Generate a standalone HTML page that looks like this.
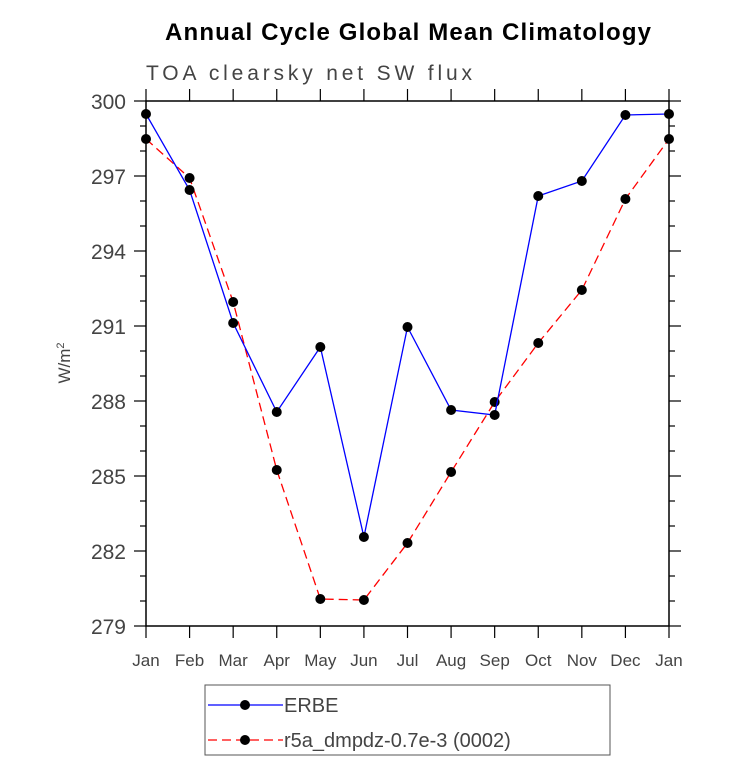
<!DOCTYPE html>
<html><head><meta charset="utf-8"><style>
body{margin:0;background:#fff;}
svg text{font-family:"Liberation Sans",sans-serif;}
</style></head><body>
<svg id="chart" width="733" height="777" xmlns="http://www.w3.org/2000/svg">
<text x="408" y="40" text-anchor="middle" font-size="24" font-weight="bold" textLength="486">Annual Cycle Global Mean Climatology</text>
<text x="146" y="80" font-size="21" fill="#444" textLength="326">TOA clearsky net SW flux</text>
<text transform="translate(70,363) rotate(-90)" text-anchor="middle" font-size="17" fill="#444">W/m<tspan font-size="11" dy="-6">2</tspan></text>
<g id="axes"></g><g id="series"></g>
<rect x="205" y="685" width="405" height="70" fill="none" stroke="#555"/>
<g><line x1="208" y1="705" x2="283" y2="705" stroke="#00f" stroke-width="1.3"/><circle cx="245" cy="705" r="5"/><text x="284" y="712" font-size="20" fill="#444">ERBE</text></g>
<g><line x1="208" y1="740" x2="283" y2="740" stroke="#f00" stroke-width="1.3" stroke-dasharray="9,5"/><circle cx="245" cy="740" r="5"/><text x="284" y="747" font-size="20" fill="#444">r5a_dmpdz-0.7e-3 (0002)</text></g>
</svg>
<script>
const months=["Jan","Feb","Mar","Apr","May","Jun","Jul","Aug","Sep","Oct","Nov","Dec","Jan"];
const erbe=[299.48,296.44,291.12,287.56,290.16,282.56,290.96,287.64,287.44,296.2,296.8,299.44,299.48];
const r5a=[298.48,296.92,291.96,285.24,280.08,280.04,282.32,285.16,287.96,290.32,292.44,296.08,298.48];
const yTicks=[279,282,285,288,291,294,297,300];
const L=146,R=669,T=101,B=626,yMin=279,yMax=300;
const xs=i=>L+i*(R-L)/(months.length-1);
const ys=v=>B-(v-yMin)/(yMax-yMin)*(B-T);
const NS="http://www.w3.org/2000/svg";
function mk(t,a,p){const e=document.createElementNS(NS,t);for(const k in a)e.setAttribute(k,a[k]);p.appendChild(e);return e;}
const ax=document.getElementById('axes'),sg=document.getElementById('series');
const frame=mk('rect',{x:L,y:T,width:R-L,height:B-T,fill:'none',stroke:'#000','stroke-width':1.5},ax);


for(let v=yMin;v<=yMax;v++){const maj=yTicks.includes(v);const len=maj?12:6;
mk('line',{x1:L-len,x2:L,y1:ys(v),y2:ys(v),stroke:'#000','stroke-width':1.2},ax);
mk('line',{x1:R,x2:R+len,y1:ys(v),y2:ys(v),stroke:'#000','stroke-width':1.2},ax);}
yTicks.forEach(v=>{const t=mk('text',{x:L-20,y:ys(v)+8,'text-anchor':'end','font-size':21,fill:'#444'},ax);t.textContent=v;

});
months.forEach((m,i)=>{const x=xs(i);
mk('line',{x1:x,x2:x,y1:B,y2:B+12,stroke:'#000','stroke-width':1.2},ax);
mk('line',{x1:x,x2:x,y1:T-12,y2:T,stroke:'#000','stroke-width':1.2},ax);
const t=mk('text',{x:x,y:B+40,'text-anchor':'middle','font-size':17,fill:'#444'},ax);t.textContent=m;

});
function series(d,color,dash,name){
const pl=mk('polyline',{points:d.map((v,i)=>xs(i)+','+ys(v)).join(' '),fill:'none',stroke:color,'stroke-width':1.3,'stroke-dasharray':dash},sg);


d.forEach((v,i)=>{const c=mk('circle',{cx:xs(i),cy:ys(v),r:5,fill:'#000'},sg);

});}
series(r5a,'#f00','9,5','r5a');
series(erbe,'#00f','none','erbe');
</script>
</body></html>
